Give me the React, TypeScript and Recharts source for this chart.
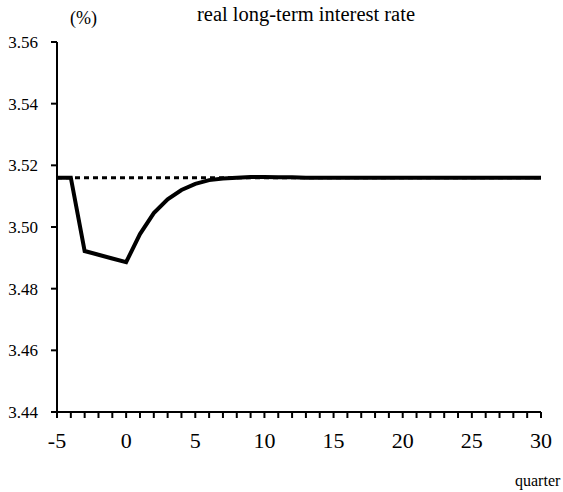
import { LineChart, Line, XAxis, YAxis, ReferenceLine } from "recharts";

// quarters relative to the shock
const quarters = [
  -5, -4, -3, -2, -1, 0, 1, 2, 3, 4, 5, 6, 7, 8, 9, 10, 11, 12, 13, 14, 15, 16,
  17, 18, 19, 20, 21, 22, 23, 24, 25, 26, 27, 28, 29, 30,
];

// real long-term interest rate, %
const realRate = [
  3.516, 3.516, 3.4922, 3.491, 3.4898, 3.4886, 3.4977, 3.5045, 3.509, 3.512,
  3.514, 3.5152, 3.5157, 3.516, 3.5162, 3.5162, 3.5161, 3.5161, 3.516, 3.516,
  3.516, 3.516, 3.516, 3.516, 3.516, 3.516, 3.516, 3.516, 3.516, 3.516, 3.516,
  3.516, 3.516, 3.516, 3.516, 3.516,
];

const steadyState = 3.516;

const yTicks = [3.44, 3.46, 3.48, 3.5, 3.52, 3.54, 3.56];
const xTicks = quarters;
const xLabels = [-5, 0, 5, 10, 15, 20, 25, 30];

const data = quarters.map((q, i) => ({ q, rate: realRate[i] }));

const serif = "Liberation Serif";

export default function App() {
  return (
    <div
      style={{
        position: "absolute",
        left: 0,
        top: 0,
        width: 563,
        height: 492,
        background: "#fff",
        fontFamily: serif,
        color: "#000",
      }}
    >
      <LineChart
        width={563}
        height={492}
        data={data}
        margin={{ top: 42, right: 22, bottom: 50, left: 0 }}
        style={{ fontFamily: serif }}
      >
        <XAxis
          dataKey="q"
          type="number"
          domain={[-5, 30]}
          ticks={xTicks}
          interval={0}
          height={30}
          tickSize={6}
          tickMargin={14}
          axisLine={{ stroke: "#000", strokeWidth: 2 }}
          tickLine={{ stroke: "#000", strokeWidth: 2 }}
          tick={{ fill: "#000", fontSize: 22, fontFamily: serif }}
          tickFormatter={(v: number) => (xLabels.includes(v) ? String(v) : "")}
        />
        <YAxis
          type="number"
          domain={[3.44, 3.56]}
          ticks={yTicks}
          width={57}
          tickSize={6}
          tickMargin={13}
          axisLine={{ stroke: "#000", strokeWidth: 2 }}
          tickLine={{ stroke: "#000", strokeWidth: 2 }}
          tick={{ fill: "#000", fontSize: 17, fontFamily: serif }}
          tickFormatter={(v: number) => v.toFixed(2)}
        />
        <ReferenceLine
          y={steadyState}
          stroke="#000"
          strokeWidth={3}
          strokeDasharray="5 4"
        />
        <Line
          type="linear"
          dataKey="rate"
          stroke="#000"
          strokeWidth={4}
          dot={false}
          isAnimationActive={false}
        />
      </LineChart>
      <div
        style={{
          position: "absolute",
          left: 0,
          width: 612,
          top: 2,
          textAlign: "center",
          fontSize: 20.5,
          lineHeight: "24px",
        }}
      >
        real long-term interest rate
      </div>
      <div style={{ position: "absolute", left: 70, top: 8, fontSize: 18 }}>
        (%)
      </div>
      <div style={{ position: "absolute", left: 515, top: 472, fontSize: 16 }}>
        quarter
      </div>
    </div>
  );
}
